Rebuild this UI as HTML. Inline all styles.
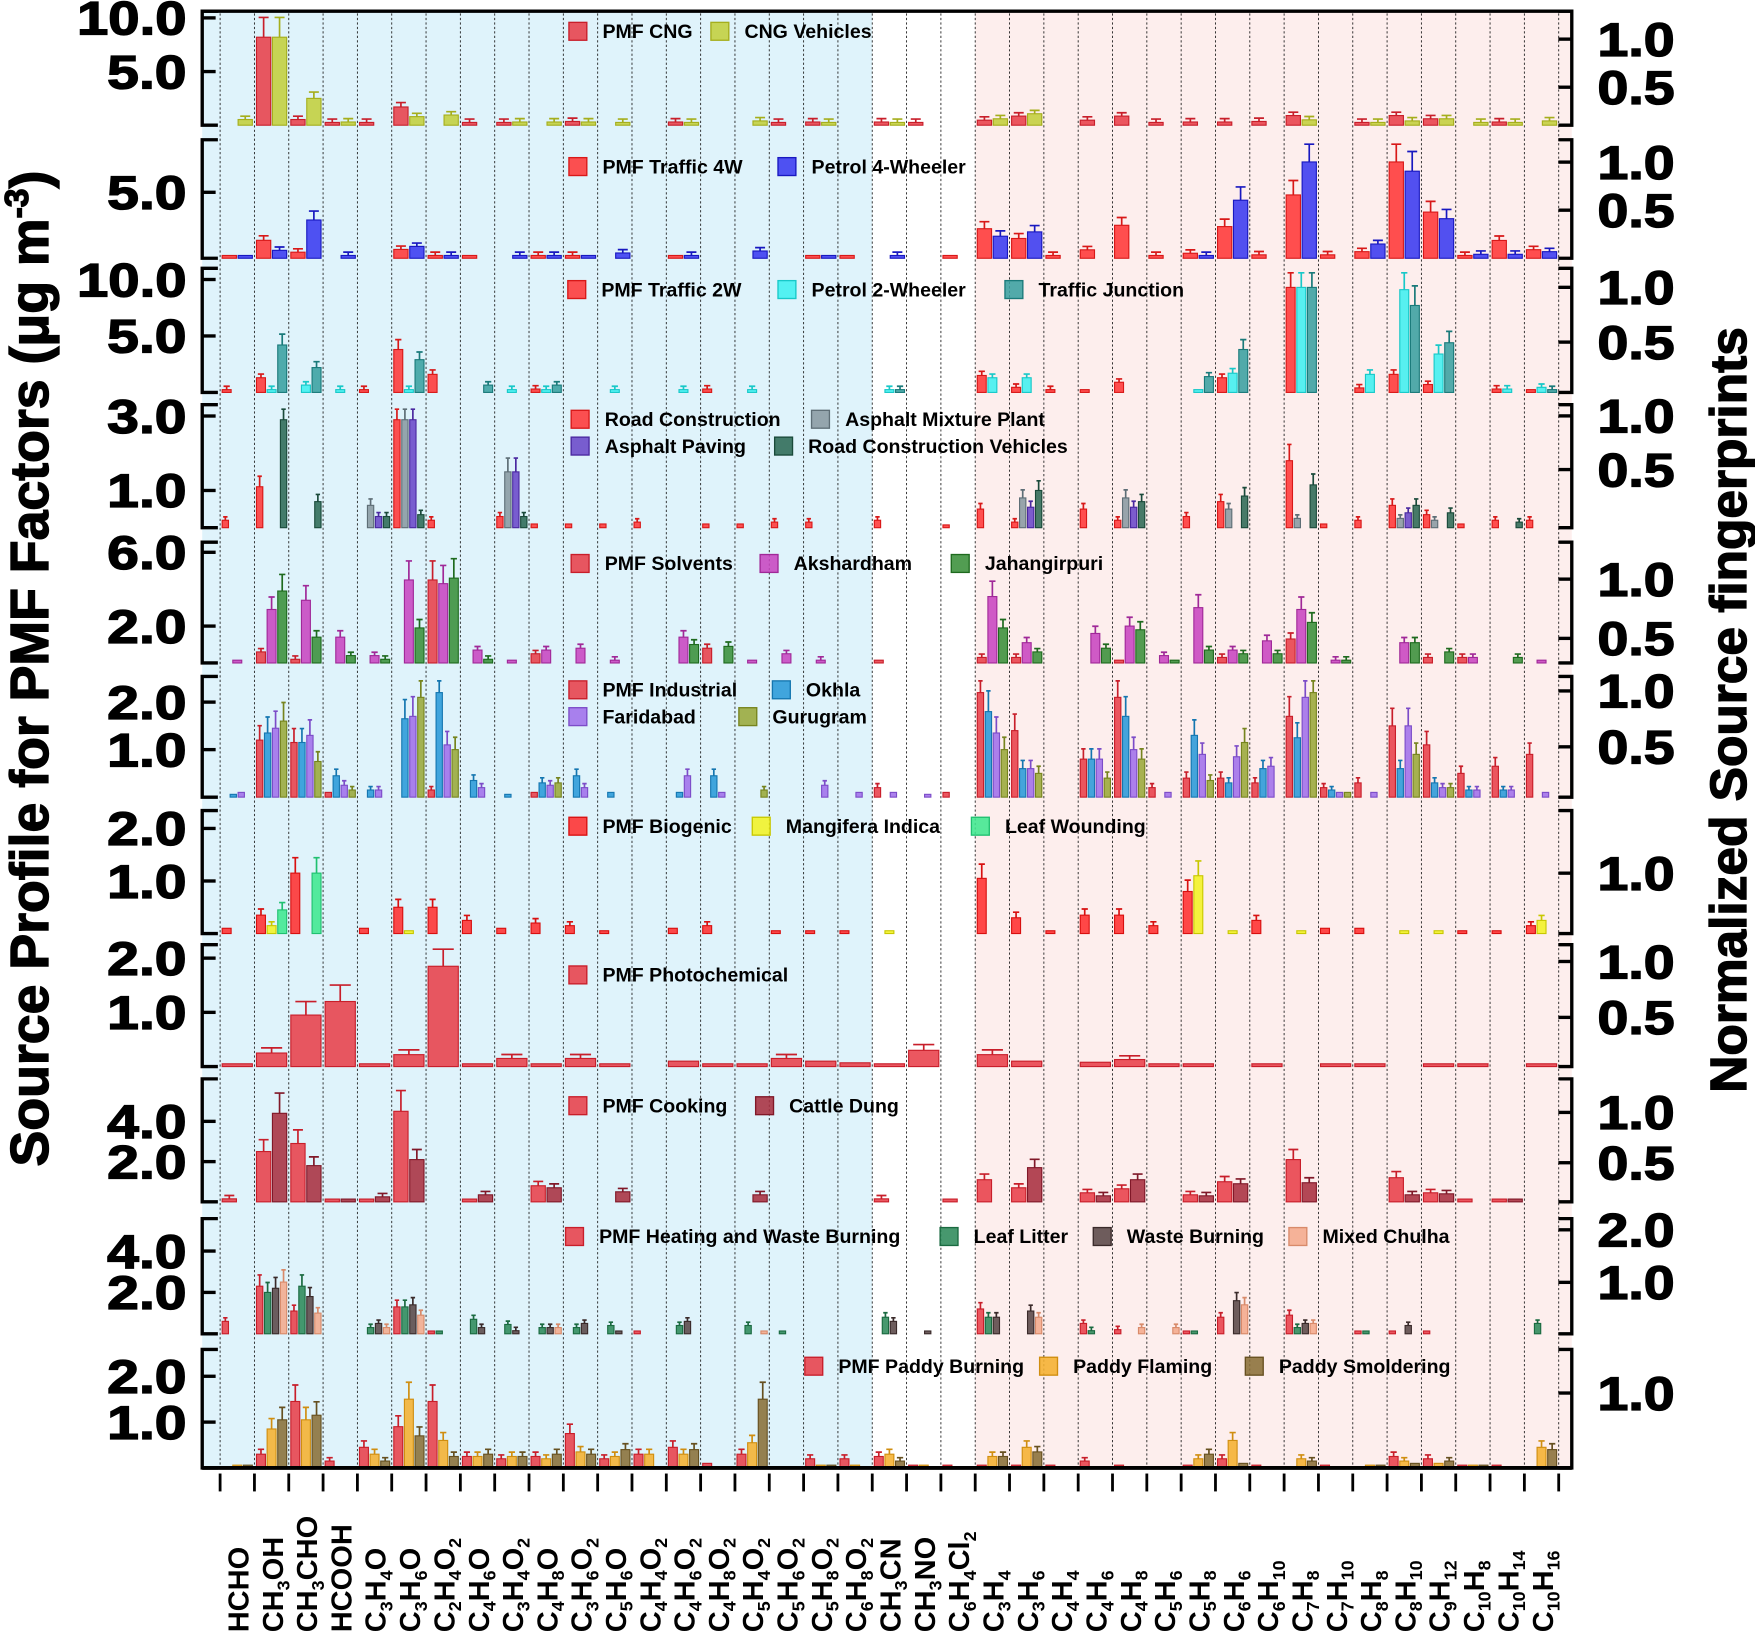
<!DOCTYPE html>
<html><head><meta charset="utf-8">
<style>
html,body{margin:0;padding:0;background:#fff;}
svg{display:block;font-family:"Liberation Sans",Arial,sans-serif;}
</style></head>
<body>
<svg id="chart" xmlns="http://www.w3.org/2000/svg" width="1755" height="1639" viewBox="0 0 1568 1466">
<rect x="0" y="0" width="1568" height="1466" fill="#fff"/>
<g id="bg"></g><g id="grid"></g><g id="bars"></g><g id="axes"></g><g id="legends"></g><g id="xlabels"></g>
<text transform="translate(42,598) rotate(-90)" text-anchor="middle" font-size="48" font-weight="bold" stroke="#000" stroke-width="1.2">Source Profile for PMF Factors (μg m<tspan font-size="30" dy="-18">-3</tspan><tspan dy="18">)</tspan></text>
<text transform="translate(1561,635) rotate(-90)" text-anchor="middle" font-size="46" font-weight="bold" stroke="#000" stroke-width="1.2">Normalized Source fingerprints</text>
</svg>
<script>
const cats = ["HCHO","CH3OH","CH3CHO","HCOOH","C3H4O","C3H6O","C2H4O2","C4H6O","C3H4O2","C4H8O","C3H6O2","C5H6O","C4H4O2","C4H6O2","C4H8O2","C5H4O2","C5H6O2","C5H8O2","C6H8O2","CH3CN","CH3NO","C6H4Cl2","C3H4","C3H6","C4H4","C4H6","C4H8","C5H6","C5H8","C6H6","C6H10","C7H8","C7H10","C8H8","C8H10","C9H12","C10H8","C10H14","C10H16"];

const p1Cng = [0,8.2,0.53,0.2,0.2,1.7,0,0.2,0.2,0, 0.35,0,0,0.3,0,0,0.2,0.3,0,0.3, 0.15,0,0.47,0.85,0,0.47,0.85,0.15,0.3,0.3, 0.35,0.9,0,0.2,0.9,0.6,0,0.3,0];
const p1CngVeh = [0.53,8.2,2.5,0.3,0,0.8,0.95,0,0.3,0.3, 0.3,0.15,0,0.2,0,0.4,0,0.2,0,0.25, 0,0,0.6,1.07,0,0,0,0,0,0, 0,0.5,0,0.15,0.4,0.6,0.2,0.15,0.4];
const p2Traffic4W = [0.1,1.36,0.46,0,0,0.67,0.2,0.1,0,0.15, 0.15,0,0,0.1,0,0,0,0.1,0.1,0, 0,0.1,2.24,1.5,0.18,0.64,2.5,0.2,0.38,2.4, 0.26,4.8,0.26,0.5,7.3,3.5,0.2,1.35,0.65];
const p2Petrol4W = [0.1,0.6,2.9,0.13,0,0.9,0.18,0,0.2,0.2, 0.1,0.4,0,0.2,0,0.55,0,0.1,0,0.15, 0,0,1.67,2.0,0,0,0,0,0.13,4.4, 0,7.3,0,1.08,6.6,3.0,0.3,0.3,0.5];
const p3Traffic2W = [0.15,1.3,0,0,0.15,3.8,1.6,0,0,0.3, 0,0,0,0,0.3,0,0,0,0,0, 0,0,1.5,0.45,0.25,0.1,0.9,0,0,1.3, 0,9.3,0,0.4,1.6,0.7,0,0.3,0.1];
const p3Petrol2W = [0,0.15,0.65,0.15,0,0.15,0,0,0.15,0.15, 0,0.15,0,0.15,0,0.15,0,0,0,0.15, 0,0,1.3,1.3,0,0,0,0,0.1,1.7, 0,9.3,0,1.6,9.1,3.4,0,0.3,0.45];
const p3Junction = [0,4.2,2.2,0,0,2.9,0,0.65,0,0.65, 0,0,0,0,0,0,0,0,0,0.2, 0,0,0,0,0,0,0,0,1.4,3.8, 0,9.3,0,0,7.7,4.4,0,0,0.2];
const p4RoadCon = [0.2,1.1,0,0,0,2.9,0.2,0,0.3,0.1, 0.1,0.1,0.15,0,0.1,0.1,0.15,0.15,0,0.2, 0,0.05,0.5,0.15,0,0.5,0.2,0,0.3,0.7, 0,1.8,0.1,0.2,0.6,0.35,0.1,0.2,0.2];
const p4Asphalt = [0,0,0,0,0.6,2.9,0,0,1.5,0, 0,0,0,0,0,0,0,0,0,0, 0,0,0,0.8,0,0,0.8,0,0,0.5, 0,0.25,0,0,0.25,0.2,0,0,0];
const p4Paving = [0,0,0,0,0.3,2.9,0,0,1.5,0, 0,0,0,0,0,0,0,0,0,0, 0,0,0,0.55,0,0,0.55,0,0,0, 0,0,0,0,0.4,0,0,0,0];
const p4Vehicles = [0,2.9,0.7,0,0.3,0.35,0,0,0.3,0, 0,0,0,0,0,0,0,0,0,0, 0,0,0,1.0,0,0,0.7,0,0,0.85, 0,1.15,0,0,0.6,0.4,0,0.15,0];
const p5Solvents = [0,0.6,0.2,0,0,0,4.5,0,0,0.5, 0,0,0,0,0.8,0,0,0,0,0.1, 0,0,0.3,0.3,0,0,0.1,0,0,0.3, 0,1.3,0,0,0,0.3,0.3,0,0];
const p5Akshardham = [0.1,2.9,3.4,1.4,0.4,4.5,4.3,0.7,0.1,0.7, 0.8,0.15,0,1.4,0,0.1,0.5,0.15,0,0, 0,0,3.6,1.1,0,1.6,2.0,0.4,3.0,0.7, 1.2,2.9,0.15,0,1.1,0,0.3,0,0.1];
const p5Jahangirpuri = [0,3.9,1.4,0.4,0.2,1.9,4.6,0.2,0,0, 0,0,0,1.0,0.9,0,0,0,0,0, 0,0,1.9,0.6,0,0.8,1.8,0.1,0.7,0.5, 0.5,2.2,0.15,0,1.1,0.6,0,0.3,0];
const p6Industrial = [0,1.2,1.15,0.1,0,0,0.15,0,0,0.1, 0,0,0,0,0,0,0,0,0,0.2, 0,0.1,2.2,1.4,0,0.8,2.1,0.2,0.4,0.4, 0.3,1.7,0.2,0.3,1.5,1.1,0.5,0.65,0.9];
const p6Okhla = [0.05,1.35,1.15,0.45,0.15,1.65,2.2,0.35,0.05,0.3, 0.45,0.1,0,0.1,0.45,0,0,0,0,0, 0,0,1.8,0.6,0,0.8,1.7,0,1.3,0.3, 0.6,1.25,0.15,0,0.6,0.3,0.15,0.15,0];
const p6Faridabad = [0.1,1.45,1.3,0.25,0.15,1.7,1.1,0.2,0,0.25, 0.2,0,0,0.45,0.1,0,0,0.25,0.1,0.1, 0.05,0,1.35,0.6,0,0.8,1.0,0.1,0.9,0.85, 0.65,2.1,0.1,0.1,1.5,0.2,0.15,0.15,0.1];
const p6Gurugram = [0,1.6,0.75,0.15,0,2.1,1.0,0,0,0.3, 0,0,0,0,0,0.15,0,0,0,0, 0,0,1.0,0.5,0,0.4,0.8,0,0.35,1.15, 0,2.2,0.1,0,0.9,0.2,0,0,0];
const p7Biogenic = [0.1,0.35,1.15,0,0.1,0.5,0.5,0.25,0.1,0.2, 0.15,0.05,0,0.1,0.15,0,0.05,0.05,0.05,0, 0,0,1.05,0.3,0.05,0.35,0.35,0.15,0.8,0, 0.25,0,0.1,0.1,0,0,0.05,0.05,0.15];
const p7Mangifera = [0,0.15,0,0,0,0.05,0,0,0,0, 0,0,0,0,0,0,0,0,0,0.05, 0,0,0,0,0,0,0,0,1.1,0.02, 0,0.02,0,0,0.02,0.02,0,0,0.25];
const p7LeafWound = [0,0.45,1.15,0,0,0,0,0,0,0, 0,0,0,0,0,0,0,0,0,0, 0,0,0,0,0,0,0,0,0,0, 0,0,0,0,0,0,0,0,0];
const p8Photochem = [0.05,0.25,0.95,1.2,0.02,0.22,1.85,0.05,0.15,0.05, 0.15,0.03,0,0.1,0.04,0.05,0.15,0.1,0.07,0.02, 0.3,0,0.22,0.1,0,0.08,0.13,0.03,0.04,0, 0.04,0,0.03,0.02,0,0.02,0.05,0,0.02];
const p9Cooking = [0.15,2.5,2.9,0.05,0.1,4.5,0,0.1,0,0.8, 0,0,0,0,0,0,0,0,0,0.15, 0,0.05,1.1,0.7,0,0.45,0.65,0,0.35,1.0, 0,2.1,0,0,1.2,0.45,0.05,0.05,0];
const p9CattleDung = [0,4.4,1.8,0.05,0.25,2.1,0,0.35,0,0.7, 0,0.5,0,0,0,0.35,0,0,0,0, 0,0,0,1.7,0,0.3,1.1,0,0.3,0.9, 0,0.95,0,0,0.35,0.4,0,0.05,0];
const p10Heating = [0.6,2.3,1.1,0,0,1.3,0.1,0,0,0, 0,0,0.1,0,0,0,0,0,0,0, 0,0,1.2,0,0,0.5,0.2,0,0.1,0.8, 0,0.9,0,0.1,0.1,0.1,0,0,0];
const p10LeafLitter = [0,2.0,2.3,0,0.3,1.3,0.1,0.7,0.45,0.3, 0.3,0.4,0,0.4,0,0.4,0.1,0,0,0.8, 0,0,0.8,0,0,0.15,0,0,0.1,0, 0,0.3,0,0.1,0,0,0,0,0.5];
const p10WasteBurn = [0,2.2,1.8,0,0.5,1.4,0,0.3,0.15,0.3, 0.5,0.1,0,0.6,0,0,0,0,0,0.6, 0.1,0,0.8,1.1,0,0,0,0,0,1.6, 0,0.5,0,0,0.4,0,0,0,0];
const p10Chulha = [0,2.5,1.0,0,0.3,0.9,0,0,0,0.3, 0,0,0,0,0,0.1,0,0,0,0, 0,0,0,0.8,0,0,0.3,0.3,0,1.4, 0,0.5,0,0,0,0,0,0,0];
const p11Paddy = [0,0.3,1.45,0.15,0.45,0.9,1.45,0.25,0.2,0.25, 0.75,0.2,0.3,0.45,0.1,0.3,0,0.2,0.2,0.25, 0.05,0.02,0.05,0.05,0.05,0.15,0.05,0,0.05,0.2, 0.05,0,0.05,0,0.25,0.2,0.05,0.05,0];
const p11Flaming = [0.05,0.85,1.05,0,0.3,1.5,0.6,0.25,0.25,0.2, 0.35,0.25,0.3,0.3,0,0.55,0,0.05,0.05,0.3, 0.05,0,0.25,0.45,0,0,0,0,0.2,0.6, 0,0.2,0,0.02,0.15,0.1,0.05,0,0.45];
const p11Smolder = [0.05,1.05,1.15,0,0.15,0.7,0.25,0.3,0.25,0.3, 0.3,0.4,0,0.4,0,1.5,0,0.05,0,0.15, 0,0,0.25,0.35,0,0,0,0,0.3,0.1, 0,0.15,0,0.02,0.1,0.15,0.05,0,0.4];

const leftTicks = [[10,5],[5],[10,5],[3,1],[6,2],[2,1],[2,1],[2,1],[4,2],[4,2],[2,1]];
const rightTickLabels = [["1.0","0.5"],["1.0","0.5"],["1.0","0.5"],["1.0","0.5"],["1.0","0.5"],["1.0","0.5"],["1.0"],["1.0","0.5"],["1.0","0.5"],["2.0","1.0"],["1.0"]];

const RED=["#e8404a","#c81e2a"];
const panels = [
 {top:10,base:112,ppu:9.6,rY:[35,78],series:[[p1Cng,RED,"PMF CNG"],[p1CngVeh,["#c3cf3c","#a5ae1c"],"CNG Vehicles"]],leg:[[516,28,0],[643,28,1]]},
 {top:125,base:231,ppu:11.8,rY:[145,188],series:[[p2Traffic4W,["#ff3838","#d81818"],"PMF Traffic 4W"],[p2Petrol4W,["#3a3af0","#1818c0"],"Petrol 4-Wheeler"]],leg:[[516,149,0],[703,149,1]]},
 {top:240,base:351,ppu:10.1,rY:[257,306],series:[[p3Traffic2W,["#ff3838","#d81818"],"PMF Traffic 2W"],[p3Petrol2W,["#40f0f0","#18c8c8"],"Petrol 2-Wheeler"],[p3Junction,["#3aa0a0","#1a7a7a"],"Traffic Junction"]],leg:[[515,259,0],[703,259,1],[906,259,2]]},
 {top:362,base:472,ppu:33.3,rY:[372,420],series:[[p4RoadCon,["#ff3838","#d81818"],"Road Construction"],[p4Asphalt,["#8a9aa2","#5e6e76"],"Asphalt Mixture Plant"],[p4Paving,["#6a48c8","#4a28a0"],"Asphalt Paving"],[p4Vehicles,["#2e6a55","#1a4a3a"],"Road Construction Vehicles"]],leg:[[518,375,0],[733,375,1],[518,399,2],[700,399,3]]},
 {top:485,base:593,ppu:16.5,rY:[518,571],series:[[p5Solvents,RED,"PMF Solvents"],[p5Akshardham,["#c846c0","#a02898"],"Akshardham"],[p5Jahangirpuri,["#3a903a","#1e6a1e"],"Jahangirpuri"]],leg:[[518,504,0],[687,504,1],[858,504,2]]},
 {top:605,base:713,ppu:42.5,rY:[618,668],series:[[p6Industrial,RED,"PMF Industrial"],[p6Okhla,["#2a9ad8","#1476b0"],"Okhla"],[p6Faridabad,["#a070ea","#7c4cc8"],"Faridabad"],[p6Gurugram,["#9aa83a","#76841e"],"Gurugram"]],leg:[[516,617,0],[698,617,1],[516,641,2],[668,641,3]]},
 {top:725,base:835,ppu:47,rY:[781],series:[[p7Biogenic,["#ff3030","#d81010"],"PMF Biogenic"],[p7Mangifera,["#f2f224","#c8c800"],"Mangifera Indica"],[p7LeafWound,["#40e890","#20c070"],"Leaf Wounding"]],leg:[[516,739,0],[680,739,1],[876,739,2]]},
 {top:845,base:954,ppu:48.5,rY:[860,910],series:[[p8Photochem,RED,"PMF Photochemical"]],leg:[[516,872,0]]},
 {top:965,base:1075,ppu:18,rY:[995,1040],series:[[p9Cooking,RED,"PMF Cooking"],[p9CattleDung,["#a83040","#801828"],"Cattle Dung"]],leg:[[516,989,0],[683,989,1]]},
 {top:1090,base:1193,ppu:18.5,rY:[1100,1147],series:[[p10Heating,RED,"PMF Heating and Waste Burning"],[p10LeafLitter,["#2e8a5a","#1a6a40"],"Leaf Litter"],[p10WasteBurn,["#5a4848","#3a2a2a"],"Waste Burning"],[p10Chulha,["#f4aa8c","#d88a6a"],"Mixed Chulha"]],leg:[[513,1106,0],[848,1106,1],[985,1106,2],[1160,1106,3]]},
 {top:1207,base:1313,ppu:41,rY:[1246],series:[[p11Paddy,RED,"PMF Paddy Burning"],[p11Flaming,["#f5b030","#d08e10"],"Paddy Flaming"],[p11Smolder,["#8a7038","#665020"],"Paddy Smoldering"]],leg:[[727,1222,0],[937,1222,1],[1121,1222,2]]}
];

const NS="http://www.w3.org/2000/svg";
const X0=196, STEP=30.7, PL=180, PR=1405;
function xCenter(i){return X0+STEP*(i+0.5);}
function mk(tag,attrs,parent){const e=document.createElementNS(NS,tag);for(const k in attrs)e.setAttribute(k,attrs[k]);parent.appendChild(e);return e;}
const gBg=document.getElementById('bg'),gGrid=document.getElementById('grid'),gBars=document.getElementById('bars'),gAx=document.getElementById('axes'),gLeg=document.getElementById('legends'),gX=document.getElementById('xlabels');

let r=mk('rect',{x:PL,y:10,width:X0+STEP*19-PL,height:1303,fill:'#dff3fb'},gBg);


r=mk('rect',{x:X0+STEP*22,y:10,width:PR-(X0+STEP*22),height:1303,fill:'#fdeeed'},gBg);



for(let k=0;k<=cats.length;k++){
  const x=X0+STEP*k;
  const l=mk('line',{x1:x,y1:12,x2:x,y2:1311,stroke:'#222','stroke-width':0.8,'stroke-dasharray':'2,2'},gGrid);
  
  
}

function tickLen(s){let w=0;for(const ch of s)w+=(ch==='.')?17:27;return w;}

panels.forEach((p,pi)=>{
  const n=p.series.length;
  const groupW=27, gap=n>1?1.5:0;
  const bw=(groupW-gap*(n-1))/n;
  const y=v=>p.base-v*p.ppu;
  p.series.forEach((s,si)=>{
    const vals=s[0], col=s[1];
    vals.forEach((v,i)=>{
      if(v<=0)return;
      const x=xCenter(i)-groupW/2+si*(bw+gap);
      let top=y(v); if(p.base-top<2.5)top=p.base-2.5;
      const b=mk('rect',{x:x.toFixed(2),y:top.toFixed(2),width:bw.toFixed(2),height:(p.base-top).toFixed(2),fill:col[0],'fill-opacity':0.88,stroke:col[1],'stroke-width':1},gBars);
      
      
      if(v>0.12){
        const e=Math.min(v*0.22+0.04, (top-p.top-4)/p.ppu);
        const et=top-Math.max(e*p.ppu,3);
        const cx=x+bw/2;
        const eb=mk('path',{d:`M${cx},${top}V${et}M${cx-bw*0.35},${et}H${cx+bw*0.35}`,stroke:col[1],'stroke-width':1.5,fill:'none'},gBars);
        
        
      }
    });
  });
  const la=mk('path',{d:`M${PL+14},${p.top}H${PL}V${p.base}H${PL+14}`,stroke:'#000','stroke-width':3,fill:'none'},gAx);
  
  
  leftTicks[pi].forEach(t=>{
    const ty=y(t);
    const tk=mk('line',{x1:PL,y1:ty,x2:PL+12,y2:ty,stroke:'#000','stroke-width':3},gAx);
    
    
    const lbl=t.toFixed(1);
    const tl=mk('text',{x:166,y:ty+15,'text-anchor':'end','font-size':42,'font-weight':'bold',stroke:'#000','stroke-width':1.2,textLength:tickLen(lbl),lengthAdjust:'spacingAndGlyphs'},gAx);
    tl.textContent=lbl;
    
    
  });
  const ra=mk('path',{d:`M${PR-12},${p.top}H${PR}V${p.base}H${PR-12}`,stroke:'#000','stroke-width':3,fill:'none'},gAx);
  
  
  p.rY.forEach((ty,k)=>{
    const tk=mk('line',{x1:PR-12,y1:ty,x2:PR,y2:ty,stroke:'#000','stroke-width':3},gAx);
    
    
    const lbl=rightTickLabels[pi][k];
    const tl=mk('text',{x:1428,y:ty+15,'font-size':42,'font-weight':'bold',stroke:'#000','stroke-width':1.2,textLength:tickLen(lbl)-2,lengthAdjust:'spacingAndGlyphs'},gAx);
    tl.textContent=lbl;
    
    
  });
  p.leg.forEach(L=>{
    const s=p.series[L[2]];
    const sq=mk('rect',{x:L[0]-8,y:L[1]-8,width:16,height:16,fill:s[1][0],'fill-opacity':0.88,stroke:s[1][1],'stroke-width':1.2},gLeg);
    
    
    const t=mk('text',{x:L[0]+22,y:L[1]+6,'font-size':17.5,'font-weight':'bold'},gLeg);
    t.textContent=s[2];
    
    
  });
});

let fr=mk('line',{x1:PL,y1:10,x2:PR,y2:10,stroke:'#000','stroke-width':3},gAx);


fr=mk('line',{x1:PL,y1:1313,x2:PR,y2:1313,stroke:'#000','stroke-width':3.5},gAx);


for(let k=0;k<=cats.length;k++){
  const x=X0+STEP*k;
  const t=mk('line',{x1:x,y1:1318,x2:x,y2:1334,stroke:'#000','stroke-width':2.5},gAx);
  
  
}
cats.forEach((c,i)=>{
  const bx=xCenter(i)+10;
  const t=mk('text',{transform:`translate(${bx.toFixed(1)},1460) rotate(-90)`,'font-size':26,'font-weight':'bold'},gX);
  
  
  const parts=c.match(/\d+|\D+/g);
  let sub=false;
  parts.forEach(pt=>{
    const isNum=/\d/.test(pt);
    const ts=document.createElementNS(NS,'tspan');
    if(isNum){ts.setAttribute('font-size','16');ts.setAttribute('dy',sub?'0':'6');sub=true;}
    else{ts.setAttribute('dy',sub?'-6':'0');sub=false;}
    ts.textContent=pt;
    t.appendChild(ts);
  });
});
</script>
</body></html>
